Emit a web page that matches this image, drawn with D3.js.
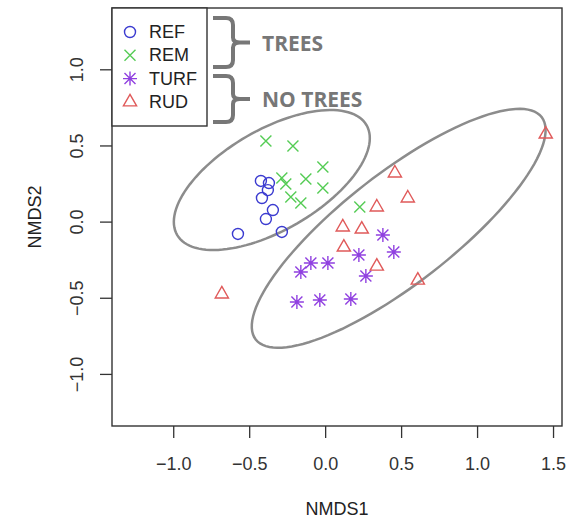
<!DOCTYPE html>
<html>
<head>
<meta charset="utf-8">
<script src="https://cdn.jsdelivr.net/npm/d3@7"></script>
<style>
  body { margin: 0; background: #fff; }
  text { font-family: "Liberation Sans", Arial, sans-serif; }
</style>
</head>
<body>
<div id="chart"></div>
<script>
// NMDS ordination, four site groups
var groups = ["REF", "REM", "TURF", "RUD"];
var groupColors = ["#3b3bd0", "#55cc55", "#9040e0", "#e05a5a"];
var groupShapes = ["circle", "cross", "asterisk", "triangle"];

var refX = [-0.423, -0.370, -0.377, -0.416, -0.344, -0.390, -0.574, -0.285];
var refY = [0.267, 0.253, 0.207, 0.155, 0.076, 0.017, -0.081, -0.068];

var remX = [-0.390, -0.212, -0.015, -0.285, -0.259, -0.127, -0.015, -0.226, -0.160, 0.228];
var remY = [0.529, 0.496, 0.359, 0.286, 0.247, 0.280, 0.221, 0.162, 0.122, 0.096];

var turfX = [0.380, 0.452, 0.222, 0.018, -0.094, -0.160, 0.268, -0.186, -0.035, 0.169];
var turfY = [-0.088, -0.200, -0.219, -0.272, -0.272, -0.331, -0.357, -0.528, -0.515, -0.508];

var rudX = [1.452, 0.459, 0.544, 0.340, 0.116, 0.241, 0.123, 0.340, 0.610, -0.680];
var rudY = [0.575, 0.319, 0.155, 0.096, -0.035, -0.049, -0.167, -0.292, -0.384, -0.475];

// ellipses round the tree / no tree sites
var ellipseNames = ["TREES", "NO TREES"];
var ellipseCx = [-0.351, 0.484];
var ellipseCy = [0.273, -0.044];
var ellipseA = [0.72, 1.191];
var ellipseB = [0.33, 0.363];
var ellipseAngle = [30, 37.8];

var xTicks = [-1.0, -0.5, 0.0, 0.5, 1.0, 1.5];
var yTicks = [-1.0, -0.5, 0.0, 0.5, 1.0];

var width = 581, height = 519;
var box = {left: 112, right: 562, top: 8, bottom: 426};

var x = d3.scaleLinear().domain([-1.403, 1.559]).range([box.left, box.right]);
var y = d3.scaleLinear().domain([-1.342, 1.4025]).range([box.bottom, box.top]);

var svg = d3.select("#chart").append("svg")
    .attr("width", width)
    .attr("height", height);

var fmt = d3.format(".1f");

// x axis
var xAxis = svg.append("g")
    .attr("transform", "translate(0," + box.bottom + ")")
    .call(d3.axisBottom(x).tickValues(xTicks).tickSize(12).tickPadding(19).tickFormat(fmt));
xAxis.select(".domain").remove();
xAxis.selectAll("line").attr("stroke", "#333").attr("stroke-width", 1.3);
xAxis.selectAll("text").attr("font-size", 18).attr("fill", "#333")
    .style("font-family", '"Liberation Sans", Arial, sans-serif');

// y axis with rotated labels
var yAxis = svg.append("g")
    .attr("transform", "translate(" + box.left + ",0)")
    .call(d3.axisLeft(y).tickValues(yTicks).tickSize(12).tickFormat(fmt));
yAxis.select(".domain").remove();
yAxis.selectAll("line").attr("stroke", "#333").attr("stroke-width", 1.3);
yAxis.selectAll("text")
    .attr("x", 0).attr("dy", null)
    .attr("transform", "translate(-35,0) rotate(-90)")
    .attr("text-anchor", "middle")
    .attr("dominant-baseline", "central")
    .attr("font-size", 18).attr("fill", "#333")
    .style("font-family", '"Liberation Sans", Arial, sans-serif');

// axis titles
svg.append("text")
    .attr("x", (box.left + box.right) / 2)
    .attr("y", 515)
    .attr("text-anchor", "middle")
    .attr("font-size", 18).attr("fill", "#222")
    .text("NMDS1");

svg.append("text")
    .attr("transform", "translate(35," + ((box.top + box.bottom) / 2) + ") rotate(-90)")
    .attr("text-anchor", "middle")
    .attr("dominant-baseline", "central")
    .attr("font-size", 18).attr("fill", "#222")
    .text("NMDS2");

// ellipses
var ellipseLine = d3.line().curve(d3.curveLinearClosed);
for (var e = 0; e < ellipseNames.length; e++) {
    var pts = [];
    var th = ellipseAngle[e] * Math.PI / 180;
    for (var k = 0; k < 120; k++) {
        var t = k / 120 * 2 * Math.PI;
        var u = ellipseA[e] * Math.cos(t), v = ellipseB[e] * Math.sin(t);
        var dx = ellipseCx[e] + u * Math.cos(th) - v * Math.sin(th);
        var dy = ellipseCy[e] + u * Math.sin(th) + v * Math.cos(th);
        pts.push([x(dx), y(dy)]);
    }
    svg.append("path")
        .attr("d", ellipseLine(pts))
        .attr("fill", "none")
        .attr("stroke", "#8c8c8c")
        .attr("stroke-width", 2.5);
}

// point symbols, R pch style
function drawSymbol(g, shape, color) {
    if (shape == "circle") {
        g.append("circle").attr("r", 5.5)
            .attr("fill", "none").attr("stroke", color).attr("stroke-width", 1.4);
    }
    else if (shape == "cross") {
        g.append("path").attr("d", "M-5.5,-5.5L5.5,5.5M-5.5,5.5L5.5,-5.5")
            .attr("stroke", color).attr("stroke-width", 1.4);
    }
    else if (shape == "asterisk") {
        g.append("path").attr("d", "M-5.5,-5.5L5.5,5.5M-5.5,5.5L5.5,-5.5M-7,0L7,0M0,-7L0,7")
            .attr("stroke", color).attr("stroke-width", 1.4);
    }
    else {
        g.append("path").attr("d", "M0,-7.5L6.6,4L-6.6,4Z")
            .attr("fill", "none").attr("stroke", color).attr("stroke-width", 1.4);
    }
}

var seriesX = [refX, remX, turfX, rudX];
var seriesY = [refY, remY, turfY, rudY];

for (var i = 0; i < groups.length; i++) {
    for (var j = 0; j < seriesX[i].length; j++) {
        var g = svg.append("g")
            .attr("transform", "translate(" + x(seriesX[i][j]) + "," + y(seriesY[i][j]) + ")");
        drawSymbol(g, groupShapes[i], groupColors[i]);
    }
}

// plot frame
svg.append("rect")
    .attr("x", box.left).attr("y", box.top)
    .attr("width", box.right - box.left).attr("height", box.bottom - box.top)
    .attr("fill", "none").attr("stroke", "#333").attr("stroke-width", 1.4);

// legend
var legend = svg.append("g");
legend.append("rect")
    .attr("x", box.left).attr("y", box.top)
    .attr("width", 95).attr("height", 118)
    .attr("fill", "#fff").attr("stroke", "#333").attr("stroke-width", 1.4);

for (var i = 0; i < groups.length; i++) {
    var ly = 32 + i * 23.3;
    var lg = legend.append("g").attr("transform", "translate(130," + ly + ")");
    drawSymbol(lg, groupShapes[i], groupColors[i]);
    legend.append("text")
        .attr("x", 149).attr("y", ly)
        .attr("dominant-baseline", "central")
        .attr("font-size", 18).attr("fill", "#222")
        .text(groups[i]);
}

// braces grouping the legend entries
function brace(top, bottom) {
    var mid = (top + bottom) / 2;
    return "M213," + top + " L226," + top + " Q233," + top + " 233," + (top + 7) +
        " L233," + (mid - 5) + " Q233," + mid + " 240," + mid + " L250," + mid +
        " M240," + mid + " Q233," + mid + " 233," + (mid + 5) +
        " L233," + (bottom - 7) + " Q233," + bottom + " 226," + bottom + " L213," + bottom;
}

var braceTop = [18, 76];
var braceBottom = [67, 122];
for (var b = 0; b < ellipseNames.length; b++) {
    svg.append("path")
        .attr("d", brace(braceTop[b], braceBottom[b]))
        .attr("fill", "none")
        .attr("stroke", "#777")
        .attr("stroke-width", 4);
    svg.append("text")
        .attr("x", 262)
        .attr("y", (braceTop[b] + braceBottom[b]) / 2 + 8)
        .attr("font-size", 21)
        .attr("font-weight", "bold")
        .attr("fill", "#777")
        .style("font-family", '"Open Sans", sans-serif')
        .text(ellipseNames[b]);
}
</script>
</body>
</html>
